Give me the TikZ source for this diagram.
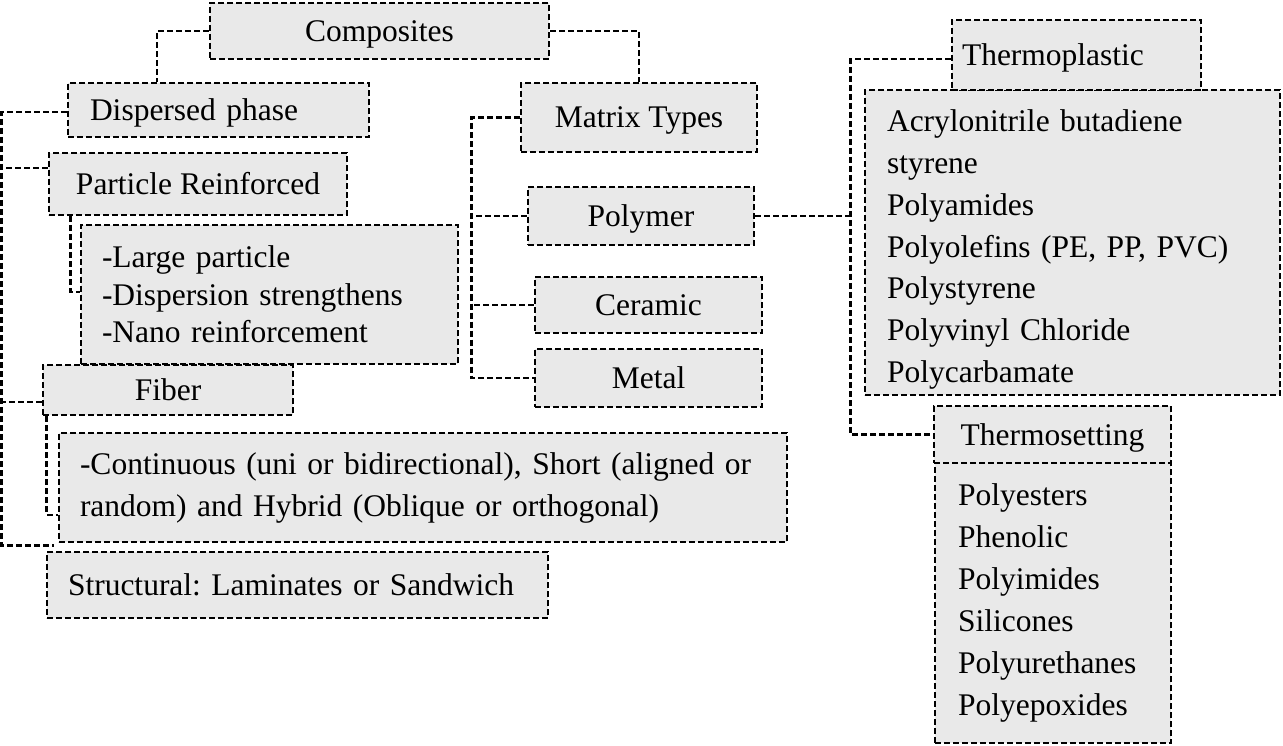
\documentclass[tikz,border=0pt]{standalone}
\usepackage{fontspec}
\setmainfont{Liberation Serif}
\definecolor{boxfill}{RGB}{233,233,233}
\frenchspacing
\begin{document}
\begin{tikzpicture}[
  x=1pt, y=-1pt,
  box/.style={rectangle, draw, dash pattern=on 6pt off 3pt, line width=2.6pt, fill=boxfill, inner sep=0pt, font=\fontsize{31.5pt}{42pt}\selectfont},
  mid/.style={text height=28pt, text depth=7pt},
  lbox/.style={box, align=left, inner xsep=#1},
  link/.style={dash pattern=on 6pt off 3pt, line width=2.6pt}
]
\useasboundingbox (0,0) rectangle (1283,746);
\node[box, mid, minimum width=339pt, minimum height=56pt] (comp) at (379.5,31) {Composites};
\node[lbox=22pt, mid, text width=257pt, minimum height=54pt] (disp) at (218.5,110) {Dispersed phase};
\node[box, mid, minimum width=298pt, minimum height=62pt] (part) at (198,184) {Particle Reinforced};
\node[lbox=21pt, text width=335pt, minimum height=139pt, font=\fontsize{31.5pt}{37.5pt}\selectfont] (partsub) at (269.5,294.5) {-Large particle\\-Dispersion strengthens\\-Nano reinforcement};
\node[box, mid, minimum width=250pt, minimum height=50pt] (fiber) at (168,390) {Fiber};
\node[lbox=21pt, text width=686pt, minimum height=109pt] (fibersub) at (423,487.5) {-Continuous (uni or bidirectional), Short (aligned or\\random) and Hybrid (Oblique or orthogonal)};
\node[lbox=21pt, mid, text width=459pt, minimum height=66pt] (struct) at (297.5,585) {Structural: Laminates or Sandwich};

\node[box, mid, minimum width=236pt, minimum height=69pt] (matrix) at (639,117.5) {Matrix Types};
\node[box, mid, minimum width=226pt, minimum height=58pt] (poly) at (641,216) {Polymer};
\node[box, mid, minimum width=227pt, minimum height=56pt] (ceramic) at (648.5,305) {Ceramic};
\node[box, mid, minimum width=227pt, minimum height=58pt] (metal) at (648.5,378) {Metal};

\node[lbox=22pt, text width=371pt, minimum height=305pt, font=\fontsize{31.5pt}{41.7pt}\selectfont] (tplist) at (1072.5,242.5) {\rule{0pt}{36pt}Acrylonitrile butadiene\\styrene\\Polyamides\\Polyolefins (PE, PP, PVC)\\Polystyrene\\Polyvinyl Chloride\\Polycarbamate};
\node[lbox=10pt, mid, text width=229pt, minimum height=70pt] (thermop) at (1076.5,55) {Thermoplastic};
\node[lbox=23pt, text width=190pt, minimum height=280pt] (tslist) at (1053,603) {Polyesters\\Phenolic\\Polyimides\\Silicones\\Polyurethanes\\Polyepoxides};
\node[box, mid, minimum width=237pt, minimum height=57pt] (thermoset) at (1052.5,434.5) {Thermosetting};

\draw[link] (comp.west) -| ([xshift=-61.5pt]disp.north);
\draw[link] (comp.east) -| (matrix.north);
\draw[link] ([yshift=-2pt]disp.west) -- ++(-65,0) |- ([xshift=8pt,yshift=5pt]struct.north west);
\draw[link] ([yshift=16pt]part.west) -- ++(-46,0);
\draw[link] ([yshift=-12pt]fiber.west) -- ++(-40,0);
\draw[link] ([xshift=23pt]part.south west) |- ([yshift=2.5pt]partsub.west);
\draw[link] ([xshift=5pt]fiber.south west) |- ([yshift=-27.5pt]fibersub.west);
\draw[link] (matrix.west) -- ++(-48,0) |- (metal.west);
\draw[link] (poly.west) -- ++(-55,0);
\draw[link] (ceramic.west) -- ++(-62,0);
\draw[link] (poly.east) -- ++(98,0);
\draw[link] ([yshift=-4pt]thermop.west) -- ++(-100,0) |- (thermoset.west);
\end{tikzpicture}
\end{document}
